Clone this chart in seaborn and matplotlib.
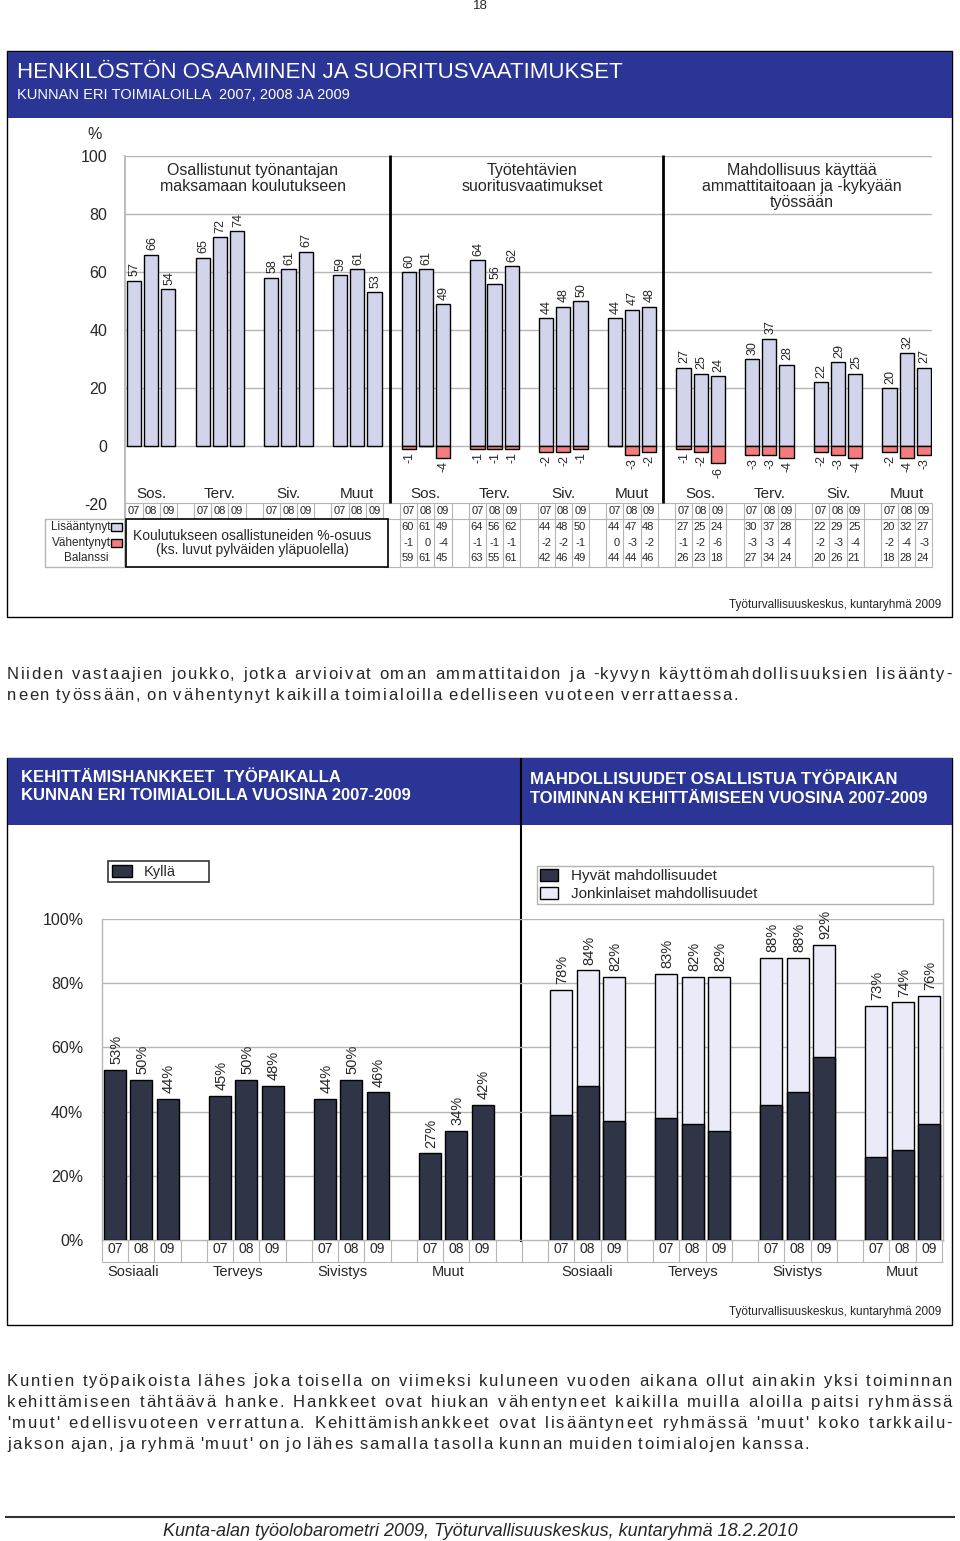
import matplotlib
matplotlib.use('Agg')
import matplotlib.pyplot as plt
from matplotlib.patches import Rectangle, Patch
from matplotlib.font_manager import FontProperties
import numpy as np
import pandas as pd
import seaborn as sns

# ---- data ----
years = ['07', '08', '09']
groups_top = ['Sos.', 'Terv.', 'Siv.', 'Muut']
panel_titles = ['Osallistunut työnantajan\nmaksamaan koulutukseen',
                'Työtehtävien\nsuoritusvaatimukset',
                'Mahdollisuus käyttää\nammattitaitoaan ja -kykyään\ntyössään']
koulutus = [57, 66, 54, 65, 72, 74, 58, 61, 67, 59, 61, 53]
vaatimus_plus = [60, 61, 49, 64, 56, 62, 44, 48, 50, 44, 47, 48]
vaatimus_minus = [-1, 0, -4, -1, -1, -1, -2, -2, -1, 0, -3, -2]
vaatimus_bal = [59, 61, 45, 63, 55, 61, 42, 46, 49, 44, 44, 46]
kayttaa_plus = [27, 25, 24, 30, 37, 28, 22, 29, 25, 20, 32, 27]
kayttaa_minus = [-1, -2, -6, -3, -3, -4, -2, -3, -4, -2, -4, -3]
kayttaa_bal = [26, 23, 18, 27, 34, 24, 20, 26, 21, 18, 28, 24]

groups_bottom = ['Sosiaali', 'Terveys', 'Sivistys', 'Muut']
kylla = [53, 50, 44, 45, 50, 48, 44, 50, 46, 27, 34, 42]
hyvat = [39, 48, 37, 38, 36, 34, 42, 46, 57, 26, 28, 36]
jonkinlaiset = [39, 36, 45, 45, 46, 48, 46, 42, 35, 47, 46, 40]

text1 = ["Niiden vastaajien joukko, jotka arvioivat oman ammattitaidon ja -kyvyn käyttömahdollisuuksien lisäänty-",
         "neen työssään, on vähentynyt kaikilla toimialoilla edelliseen vuoteen verrattaessa."]
text2 = ["Kuntien työpaikoista lähes joka toisella on viimeksi kuluneen vuoden aikana ollut ainakin yksi toiminnan",
         "kehittämiseen tähtäävä hanke. Hankkeet ovat hiukan vähentyneet kaikilla muilla aloilla paitsi ryhmässä",
         "'muut' edellisvuoteen verrattuna. Kehittämishankkeet ovat lisääntyneet ryhmässä 'muut' koko tarkkailu-",
         "jakson ajan, ja ryhmä 'muut' on jo lähes samalla tasolla kunnan muiden toimialojen kanssa."]

BLUE = '#2b3595'
LAV = '#d2d4ec'
RED = '#f47c7c'
DARK = '#2f3447'
PALE = '#eaeaf8'
GRID = '#b5b5b5'

sns.set_theme(style='white')
plt.rcParams['font.family'] = ['Liberation Sans', 'DejaVu Sans']
plt.rcParams['axes.unicode_minus'] = False

W, H = 960, 1541
fig = plt.figure(figsize=(9.6, 15.41), dpi=100)
page = fig.add_axes([0, 0, 1, 1])
page.set_xlim(0, W)
page.set_ylim(H, 0)
page.axis('off')


def fbox(x0, y0, x1, y1):
    return [x0 / W, 1 - y1 / H, (x1 - x0) / W, (y1 - y0) / H]


def slots(offset):
    return [offset + (i // 3) * 4 + i % 3 for i in range(12)]


def justified(lines, y0, dy, size, track=1.7, x0=7, x1=952):
    # letter-spaced, justified paragraph (last line left aligned)
    renderer = fig.canvas.get_renderer()
    prop = FontProperties(family=['Liberation Sans'], size=size)

    def w(s):
        return renderer.get_text_width_height_descent(s, prop, ismath=False)[0]

    space = w('n n') - 2 * w('n') + track
    for n, line in enumerate(lines):
        y = y0 + n * dy
        words = line.split()
        widths = [w(wd) + (len(wd) - 1) * track for wd in words]
        if n == len(lines) - 1:
            gap = space
        else:
            gap = (x1 - x0 - sum(widths)) / (len(words) - 1)
        x = x0
        for wd, ww in zip(words, widths):
            for k, ch in enumerate(wd):
                off = w(wd[:k + 1]) - w(ch) + k * track
                page.text(x + off, y, ch, fontproperties=prop, va='center')
            x += ww + gap


# ---- page decorations ----
page.text(480, 6, '18', fontsize=9.5, ha='center', va='center')
page.add_patch(Rectangle((7, 51), 945, 566, fill=False, ec='black', lw=1))
page.add_patch(Rectangle((8, 52), 944, 66, fc=BLUE, ec='none'))
page.text(17, 72, 'HENKILÖSTÖN OSAAMINEN JA SUORITUSVAATIMUKSET', color='white', fontsize=16, va='center')
page.text(17, 95, 'KUNNAN ERI TOIMIALOILLA  2007, 2008 JA 2009', color='white', fontsize=10.5, va='center')
page.text(95, 134, '%', fontsize=11.5, ha='center', va='center')
page.text(941, 605, 'Työturvallisuuskeskus, kuntaryhmä 2009', fontsize=8.5, ha='right', va='center')

# row labels of the top table
page.add_patch(Rectangle((45, 519), 80, 48, fill=False, ec=GRID, lw=1))
page.text(111, 527, 'Lisääntynyt', fontsize=8.5, ha='right', va='center')
page.text(111, 543, 'Vähentynyt', fontsize=8.5, ha='right', va='center')
page.text(86, 558, 'Balanssi', fontsize=8.5, ha='center', va='center')
page.add_patch(Rectangle((111, 523), 11, 8, fc=LAV, ec='black', lw=1))
page.add_patch(Rectangle((111, 539), 11, 8, fc=RED, ec='black', lw=1))

justified(text1, 674, 21, 12)

page.add_patch(Rectangle((7, 758), 945, 567, fill=False, ec='black', lw=1))
page.add_patch(Rectangle((8, 758), 944, 67, fc=BLUE, ec='none'))
page.vlines(521, 758, 1242, color='black', lw=1.5)
page.text(21, 786.5, 'KEHITTÄMISHANKKEET  TYÖPAIKALLA\nKUNNAN ERI TOIMIALOILLA VUOSINA 2007-2009',
          color='white', fontsize=12, fontweight='bold', va='center', linespacing=1.3)
page.text(530, 789, 'MAHDOLLISUUDET OSALLISTUA TYÖPAIKAN\nTOIMINNAN KEHITTÄMISEEN VUOSINA 2007-2009',
          color='white', fontsize=12, fontweight='bold', va='center', linespacing=1.3)
page.text(941, 1312, 'Työturvallisuuskeskus, kuntaryhmä 2009', fontsize=8.5, ha='right', va='center')

justified(text2, 1381, 21.3, 12)
page.hlines(1517, 5, 955, color='#333333', lw=1.5)
page.text(480, 1531, 'Kunta-alan työolobarometri 2009, Työturvallisuuskeskus, kuntaryhmä 18.2.2010',
          fontsize=13, style='italic', ha='center', va='center')

# ---- top chart ----
ax = fig.add_axes(fbox(125.4, 156, 931.6, 504))
ax.patch.set_alpha(0)
top_plus = pd.DataFrame({'pos': slots(0) + slots(16) + slots(32),
                         'val': koulutus + vaatimus_plus + kayttaa_plus})
top_minus = pd.DataFrame({'pos': slots(16) + slots(32),
                          'val': vaatimus_minus + kayttaa_minus})
ax.hlines(range(0, 101, 20), -0.5, 46.45, color=GRID, lw=1, zorder=1)
sns.barplot(data=top_plus, x='pos', y='val', native_scale=True, orient='x', color=LAV,
            saturation=1, width=0.83, edgecolor='black', linewidth=1, errorbar=None, ax=ax, zorder=3)
sns.barplot(data=top_minus, x='pos', y='val', native_scale=True, orient='x', color=RED,
            saturation=1, width=0.83, edgecolor='black', linewidth=1, errorbar=None, ax=ax, zorder=3)
for x, v in zip(top_plus['pos'], top_plus['val']):
    ax.text(x + 0.05, v + 1.5, str(v), rotation=90, ha='center', va='bottom', fontsize=9)
for x, v in zip(top_minus['pos'], top_minus['val']):
    if v != 0:
        ax.text(x + 0.05, v - 1.2, str(v), rotation=90, ha='center', va='top', fontsize=9)

centers = [6.93, 23.2, 38.9]
for p in range(3):
    ax.text(centers[p], 97.6, panel_titles[p], ha='center', va='top', fontsize=11.5, linespacing=1.1)
    for g, name in enumerate(groups_top):
        ax.text(p * 16 + g * 4 + 1, -16.6, name, ha='center', va='center', fontsize=11)
ax.vlines([14.9, 30.8], -19.66, 100.3, color='black', lw=2, clip_on=False, zorder=4)

# table under the top chart
yh, rows = -22.4, [-27.9, -33.45, -38.6]
for p in range(3):
    for i, x in enumerate(slots(p * 16)):
        ax.text(x, yh, years[i % 3], ha='center', va='center', fontsize=8)
table_rows = [(vaatimus_plus, vaatimus_minus, vaatimus_bal, 16),
              (kayttaa_plus, kayttaa_minus, kayttaa_bal, 32)]
for plus, minus, bal, off in table_rows:
    for i, x in enumerate(slots(off)):
        for yr, vals in zip(rows, (plus, minus, bal)):
            ax.text(x + 0.3, yr, str(vals[i]), ha='right', va='center', fontsize=8)
for b in np.arange(-0.5, 47):
    ax.vlines(b, -25.17 if b < 15 else -41.7, -19.66, color=GRID, lw=0.8, clip_on=False)
ax.hlines(-19.66, -0.5, 46.5, color=GRID, lw=0.8, clip_on=False)
ax.hlines([-25.17, -41.7], 14.5, 46.5, color=GRID, lw=0.8, clip_on=False)
ax.add_patch(Rectangle((-0.46, -41.7), 15.27, 16.53, fc='white', ec='black', lw=1.2,
                       clip_on=False, zorder=4))
ax.text(6.9, -33.4, 'Koulutukseen osallistuneiden %-osuus\n(ks. luvut pylväiden yläpuolella)',
        ha='center', va='center', fontsize=10, linespacing=1.05, zorder=5)

ax.set_xlim(-0.5, 46.45)
ax.set_ylim(-20, 100)
ax.set_xticks([])
ax.set_yticks(range(-20, 101, 20))
ax.tick_params(axis='y', length=0, pad=13, labelsize=11.5)
ax.set_xlabel('')
ax.set_ylabel('')
for s in ['top', 'right', 'bottom']:
    ax.spines[s].set_visible(False)
ax.spines['left'].set_color(GRID)
ax.spines['left'].set_bounds(-41.7, 100)

# ---- bottom chart ----
ax2 = fig.add_axes(fbox(102, 919, 943, 1240))
ax2.patch.set_alpha(0)
left_df = pd.DataFrame({'pos': slots(0), 'val': kylla})
right_df = pd.DataFrame({'pos': slots(17), 'hyvat': hyvat,
                         'total': [a + b for a, b in zip(hyvat, jonkinlaiset)]})
ax2.hlines(range(20, 101, 20), -0.5, 31.54, color=GRID, lw=1, zorder=1)
sns.barplot(data=left_df, x='pos', y='val', native_scale=True, orient='x', color=DARK,
            saturation=1, width=0.84, edgecolor='black', linewidth=1, errorbar=None, ax=ax2, zorder=3)
sns.barplot(data=right_df, x='pos', y='total', native_scale=True, orient='x', color=PALE,
            saturation=1, width=0.84, edgecolor='black', linewidth=1, errorbar=None, ax=ax2, zorder=3)
sns.barplot(data=right_df, x='pos', y='hyvat', native_scale=True, orient='x', color=DARK,
            saturation=1, width=0.84, edgecolor='black', linewidth=1, errorbar=None, ax=ax2, zorder=3)
for x, v in zip(left_df['pos'], left_df['val']):
    ax2.text(x + 0.05, v + 1.8, f'{v}%', rotation=90, ha='center', va='bottom', fontsize=10.5)
for x, v in zip(right_df['pos'], right_df['total']):
    ax2.text(x + 0.05, v + 1.8, f'{v}%', rotation=90, ha='center', va='bottom', fontsize=10.5)

for off, shift in [(0, -0.33), (17, 0)]:
    for i, x in enumerate(slots(off)):
        ax2.text(x, -2.8, years[i % 3], ha='center', va='center', fontsize=10)
    for g, name in enumerate(groups_bottom):
        ax2.text(off + g * 4 + 1 + shift, -9.97, name, ha='center', va='center', fontsize=10.5)
ax2.vlines(np.arange(-0.5, 32), -6.85, 0, color=GRID, lw=0.8, clip_on=False)
ax2.hlines(-6.85, -0.5, 31.54, color=GRID, lw=0.8, clip_on=False)

ax2.set_xlim(-0.5, 31.54)
ax2.set_ylim(0, 100)
ax2.set_xticks([])
ax2.set_yticks(range(0, 101, 20))
ax2.set_yticklabels([f'{v}%' for v in range(0, 101, 20)])
ax2.tick_params(axis='y', length=0, pad=13.5, labelsize=11.5)
ax2.set_xlabel('')
ax2.set_ylabel('')
ax2.spines['top'].set_visible(False)
for s in ['left', 'right', 'bottom']:
    ax2.spines[s].set_color(GRID)
    ax2.spines[s].set_linewidth(1)

leg1 = fig.legend(handles=[Patch(fc=DARK, ec='black')], labels=['Kyllä'], loc='upper left',
                  bbox_to_anchor=(108 / W, 1 - 883 / H, 101 / W, 22 / H), mode='expand',
                  frameon=True, fancybox=False, edgecolor='black', fontsize=10.5,
                  borderaxespad=0, borderpad=0.25, handlelength=1.4, handleheight=0.9)
leg1.get_frame().set_linewidth(1.2)
leg2 = fig.legend(handles=[Patch(fc=DARK, ec='black'), Patch(fc=PALE, ec='black')],
                  labels=['Hyvät mahdollisuudet', 'Jonkinlaiset mahdollisuudet'], loc='upper left',
                  bbox_to_anchor=(537 / W, 1 - 907 / H, 396 / W, 41 / H), mode='expand',
                  frameon=True, fancybox=False, edgecolor='#a0a0a0', fontsize=11,
                  borderaxespad=0, borderpad=0.2, labelspacing=0.25, handlelength=1.2, handleheight=0.8)
leg2.get_frame().set_linewidth(1)

fig.savefig('out.png', dpi=100)
